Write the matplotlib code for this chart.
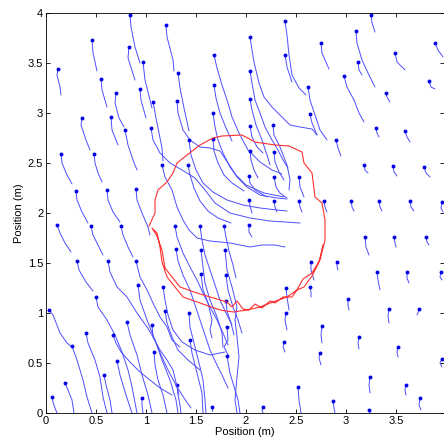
import matplotlib
matplotlib.use('Agg')
import matplotlib.pyplot as plt

# each track: list of (x, y) in metres, first point = current position (dot)
left_tracks = [
    [(0.12, 3.44), (0.11, 3.38), (0.14, 3.26), (0.15, 3.18)],
    [(0.46, 3.73), (0.47, 3.60), (0.51, 3.42)],
    [(0.84, 3.98), (0.85, 3.86), (0.89, 3.66), (0.94, 3.50)],
    [(0.83, 3.66), (0.82, 3.55), (0.89, 3.33)],
    [(0.55, 3.34), (0.56, 3.23), (0.61, 3.06)],
    [(0.70, 3.20), (0.69, 3.10), (0.73, 2.95), (0.78, 2.86)],
    [(0.94, 3.24), (0.95, 3.13), (1.00, 2.95)],
    [(0.97, 3.51), (0.99, 3.33), (1.04, 3.13), (1.06, 3.05)],
    [(0.36, 2.95), (0.35, 2.88), (0.40, 2.73), (0.44, 2.63)],
    [(0.65, 2.96), (0.66, 2.83), (0.72, 2.68)],
    [(0.79, 2.83), (0.82, 2.68), (0.87, 2.53), (0.91, 2.43)],
    [(0.15, 2.59), (0.16, 2.50), (0.21, 2.38), (0.26, 2.29)],
    [(0.48, 2.59), (0.49, 2.50), (0.52, 2.40), (0.56, 2.31)],
    [(0.30, 2.22), (0.31, 2.13), (0.36, 2.01), (0.42, 1.90)],
    [(0.61, 2.23), (0.62, 2.13), (0.67, 2.01), (0.74, 1.91)],
    [(0.90, 2.24), (0.91, 2.13), (0.96, 2.00), (1.02, 1.86), (1.04, 1.78)],
    [(0.11, 1.88), (0.14, 1.80), (0.19, 1.70), (0.25, 1.61)],
    [(0.45, 1.87), (0.47, 1.78), (0.52, 1.68), (0.57, 1.58)],
    [(0.75, 1.87), (0.77, 1.78), (0.82, 1.66), (0.87, 1.56)],
    [(0.31, 1.52), (0.33, 1.43), (0.40, 1.31), (0.47, 1.22)],
    [(0.03, 1.03), (0.07, 0.98), (0.14, 0.80), (0.21, 0.70), (0.26, 0.66)],
    [(0.26, 0.67), (0.31, 0.53), (0.37, 0.33), (0.41, 0.16), (0.46, 0.0)],
    [(0.40, 0.80), (0.42, 0.70), (0.49, 0.53), (0.54, 0.36), (0.57, 0.16), (0.61, 0.0)],
    [(0.50, 1.16), (0.52, 1.06), (0.61, 0.93), (0.69, 0.78), (0.76, 0.61), (0.82, 0.43),
     (0.86, 0.26), (0.91, 0.0)],
    [(0.58, 0.38), (0.60, 0.28), (0.64, 0.13), (0.66, 0.0)],
    [(0.71, 0.52), (0.74, 0.38), (0.80, 0.18), (0.86, 0.0)],
    [(0.19, 0.30), (0.22, 0.23), (0.26, 0.13), (0.28, 0.0)],
    [(0.06, 0.16), (0.07, 0.11), (0.09, 0.05), (0.11, 0.0)],
    [(0.96, 0.15), (0.96, 0.08), (0.97, 0.0)],
    [(0.62, 1.52), (0.64, 1.41), (0.71, 1.26), (0.81, 1.16), (0.91, 1.00), (1.01, 0.86),
     (1.09, 0.73), (1.15, 0.58), (1.22, 0.43), (1.30, 0.28), (1.38, 0.15), (1.45, 0.05)],
    [(0.90, 1.52), (0.94, 1.36), (1.01, 1.23), (1.07, 1.10), (1.14, 0.96), (1.21, 0.86),
     (1.26, 0.73), (1.34, 0.66)],
    [(0.92, 1.28), (0.94, 1.13), (1.01, 0.93), (1.09, 0.73), (1.16, 0.53), (1.24, 0.33),
     (1.30, 0.13), (1.32, 0.0)],
    [(0.81, 0.91), (0.84, 0.78), (0.91, 0.58), (0.96, 0.38), (1.02, 0.18), (1.06, 0.0)],
    [(0.67, 0.78), (0.70, 0.70), (0.75, 0.61), (0.84, 0.51), (0.94, 0.41), (1.04, 0.33),
     (1.14, 0.25), (1.26, 0.18)],
    [(1.08, 0.61), (1.09, 0.48), (1.12, 0.33), (1.17, 0.18), (1.21, 0.0)],
    [(1.31, 0.28), (1.32, 0.18), (1.34, 0.08), (1.35, 0.0)],
    [(1.06, 0.88), (1.07, 0.76), (1.14, 0.63), (1.21, 0.53), (1.27, 0.43), (1.33, 0.18)],
    [(1.19, 1.02), (1.21, 0.90), (1.26, 0.76), (1.32, 0.63), (1.42, 0.53), (1.54, 0.43)],
    [(1.17, 1.26), (1.19, 1.13), (1.22, 0.98), (1.27, 0.83), (1.36, 0.71), (1.49, 0.63),
     (1.64, 0.58), (1.79, 0.61)],
]

middle_tracks = [
    [(1.20, 3.88), (1.21, 3.76), (1.27, 3.53), (1.28, 3.42)],
    [(1.32, 3.40), (1.34, 3.25), (1.38, 3.05), (1.43, 2.82)],
    [(1.07, 3.11), (1.10, 2.95), (1.13, 2.80), (1.16, 2.65), (1.17, 2.52)],
    [(1.31, 3.12), (1.32, 3.00), (1.37, 2.83), (1.44, 2.73), (1.54, 2.66), (1.64, 2.65),
     (1.74, 2.62), (1.82, 2.50), (1.90, 2.38), (2.00, 2.28), (2.18, 2.20), (2.38, 2.16)],
    [(1.68, 3.28), (1.70, 3.15), (1.74, 3.00), (1.80, 2.85), (1.86, 2.72)],
    [(1.67, 2.74), (1.68, 2.62), (1.72, 2.50), (1.78, 2.38), (1.86, 2.30), (1.98, 2.22)],
    [(1.42, 2.48), (1.44, 2.38), (1.48, 2.25), (1.54, 2.12), (1.62, 2.02), (1.72, 1.95),
     (1.85, 1.90)],
    [(1.16, 2.48), (1.19, 2.36), (1.26, 2.23), (1.31, 2.06), (1.37, 1.93), (1.43, 1.83),
     (1.51, 1.75), (1.64, 1.72), (1.84, 1.70), (2.04, 1.66), (2.16, 1.68), (2.29, 1.68),
     (2.39, 1.66)],
    [(1.05, 2.85), (1.07, 2.73), (1.14, 2.60), (1.24, 2.50), (1.36, 2.43), (1.49, 2.35),
     (1.59, 2.23), (1.69, 2.10), (1.84, 2.00), (2.04, 1.95), (2.24, 1.92), (2.54, 1.90)],
    [(1.43, 2.73), (1.45, 2.58), (1.50, 2.43), (1.57, 2.30), (1.67, 2.21), (1.81, 2.13),
     (1.97, 2.08), (2.14, 2.05), (2.31, 2.03), (2.41, 2.02)],
    [(1.67, 3.00), (1.69, 2.86), (1.72, 2.73), (1.77, 2.60), (1.84, 2.46), (1.91, 2.36),
     (2.01, 2.26), (2.14, 2.18), (2.31, 2.15), (2.41, 2.14)],
    [(1.68, 3.58), (1.71, 3.45), (1.76, 3.28), (1.82, 3.10), (1.86, 2.96), (1.93, 2.80),
     (2.02, 2.63), (2.14, 2.51), (2.26, 2.43), (2.36, 2.39)],
    [(2.04, 3.76), (2.06, 3.63), (2.08, 3.51), (2.13, 3.30), (2.18, 3.16), (2.26, 3.06),
     (2.34, 2.98), (2.44, 2.88), (2.54, 2.86), (2.66, 2.84), (2.71, 2.78)],
    [(2.04, 3.42), (2.06, 3.30), (2.09, 3.13), (2.14, 3.00), (2.19, 2.86), (2.26, 2.73),
     (2.32, 2.63), (2.37, 2.53), (2.42, 2.45)],
    [(2.04, 3.14), (2.06, 3.03), (2.10, 2.88), (2.16, 2.73), (2.21, 2.58), (2.24, 2.48)],
    [(2.04, 2.87), (2.06, 2.76), (2.11, 2.66), (2.17, 2.60)],
    [(2.27, 2.88), (2.28, 2.78), (2.34, 2.66), (2.41, 2.48), (2.44, 2.33), (2.43, 2.23)],
    [(2.04, 2.62), (2.05, 2.53), (2.08, 2.43), (2.12, 2.35)],
    [(2.28, 2.61), (2.29, 2.51), (2.33, 2.41), (2.38, 2.33)],
    [(2.03, 2.37), (2.04, 2.30), (2.09, 2.23), (2.21, 2.16)],
    [(2.28, 2.36), (2.30, 2.26), (2.34, 2.20), (2.41, 2.15)],
    [(2.03, 2.13), (2.04, 2.07), (2.06, 2.00)],
    [(1.29, 1.87), (1.31, 1.76), (1.37, 1.60), (1.44, 1.46), (1.51, 1.33), (1.57, 1.20),
     (1.64, 1.06), (1.71, 0.93), (1.77, 0.80), (1.82, 0.68)],
    [(1.30, 1.64), (1.32, 1.52), (1.37, 1.38), (1.44, 1.23), (1.49, 1.08), (1.54, 0.93),
     (1.59, 0.78), (1.64, 0.63), (1.70, 0.50), (1.76, 0.38), (1.82, 0.25)],
    [(1.54, 1.87), (1.56, 1.73), (1.59, 1.58), (1.64, 1.43), (1.69, 1.28), (1.74, 1.13),
     (1.80, 1.00), (1.86, 0.88)],
    [(1.55, 1.63), (1.57, 1.46), (1.59, 1.30), (1.64, 1.13), (1.71, 0.96), (1.76, 0.80),
     (1.77, 0.66)],
    [(1.78, 1.87), (1.80, 1.76), (1.83, 1.62), (1.87, 1.48), (1.90, 1.35)],
    [(1.79, 1.63), (1.81, 1.43), (1.86, 1.26), (1.91, 1.06), (1.89, 0.93), (1.91, 0.76),
     (1.93, 0.56), (1.91, 0.36), (1.89, 0.13), (1.91, 0.0)],
    [(1.55, 1.39), (1.57, 1.23), (1.62, 1.10), (1.66, 0.93), (1.64, 0.83), (1.66, 0.75)],
    [(1.80, 1.38), (1.82, 1.23), (1.87, 1.06), (1.92, 0.93), (1.96, 0.80)],
    [(1.80, 1.12), (1.81, 1.02), (1.85, 0.90), (1.88, 0.78)],
    [(1.81, 0.86), (1.82, 0.73), (1.78, 0.66), (1.82, 0.58)],
    [(1.81, 0.57), (1.84, 0.40), (1.89, 0.23), (1.92, 0.13), (1.94, 0.0)],
    [(1.43, 1.00), (1.44, 0.86), (1.49, 0.66), (1.54, 0.46), (1.57, 0.33), (1.59, 0.13),
     (1.60, 0.0)],
    [(1.44, 0.73), (1.46, 0.60), (1.51, 0.40), (1.56, 0.20), (1.57, 0.0)],
    [(1.66, 0.06), (1.66, 0.02)],
]

right_tracks = [
    [(2.39, 3.92), (2.41, 3.78), (2.43, 3.58), (2.46, 3.38), (2.53, 3.25), (2.60, 3.18)],
    [(2.62, 3.26), (2.64, 3.13), (2.69, 2.98), (2.74, 2.83), (2.81, 2.73)],
    [(2.39, 3.58), (2.41, 3.46), (2.46, 3.31)],
    [(2.75, 3.70), (2.76, 3.60), (2.83, 3.44)],
    [(3.10, 3.82), (3.11, 3.70), (3.16, 3.53), (3.22, 3.40), (3.29, 3.26)],
    [(3.25, 3.98), (3.26, 3.90), (3.29, 3.81)],
    [(3.49, 3.60), (3.51, 3.51), (3.59, 3.43)],
    [(3.89, 3.70), (3.92, 3.63), (3.97, 3.56)],
    [(3.12, 3.51), (3.13, 3.43), (3.16, 3.38)],
    [(2.98, 3.37), (3.01, 3.26), (3.08, 3.13), (3.13, 3.00), (3.18, 2.91)],
    [(3.40, 3.20), (3.41, 3.16), (3.44, 3.11)],
    [(3.83, 3.32), (3.85, 3.26), (3.89, 3.24)],
    [(2.64, 2.99), (2.66, 2.90), (2.71, 2.78)],
    [(2.90, 2.73), (2.92, 2.65), (2.95, 2.57)],
    [(3.30, 2.85), (3.31, 2.80), (3.33, 2.76)],
    [(3.59, 2.82), (3.61, 2.76), (3.64, 2.71)],
    [(3.18, 2.48), (3.19, 2.43), (3.22, 2.40)],
    [(3.47, 2.47), (3.48, 2.41), (3.51, 2.37)],
    [(3.78, 2.46), (3.80, 2.40), (3.84, 2.36)],
    [(2.53, 2.36), (2.54, 2.26), (2.58, 2.16)],
    [(2.28, 2.12), (2.29, 2.06), (2.31, 2.01)],
    [(2.53, 2.12), (2.54, 2.06), (2.56, 2.01)],
    [(2.78, 2.12), (2.79, 2.06), (2.81, 2.01)],
    [(3.05, 2.12), (3.06, 2.06), (3.08, 2.02)],
    [(3.33, 2.12), (3.34, 2.06), (3.36, 2.02)],
    [(3.64, 2.12), (3.65, 2.06), (3.68, 2.02)],
    [(3.96, 2.11), (3.95, 2.05), (3.97, 2.01)],
    [(2.03, 1.88), (2.03, 1.81), (2.06, 1.76)],
    [(3.19, 1.76), (3.20, 1.66), (3.23, 1.58)],
    [(3.48, 1.76), (3.49, 1.70), (3.50, 1.66)],
    [(3.80, 1.76), (3.81, 1.71), (3.83, 1.68)],
    [(2.65, 1.51), (2.65, 1.43), (2.68, 1.33)],
    [(2.91, 1.51), (2.91, 1.47), (2.92, 1.43)],
    [(3.31, 1.41), (3.32, 1.33), (3.34, 1.23)],
    [(3.61, 1.41), (3.61, 1.35), (3.63, 1.30)],
    [(3.95, 1.41), (3.94, 1.36), (3.96, 1.33)],
    [(2.40, 1.25), (2.41, 1.16), (2.43, 1.03)],
    [(2.64, 1.26), (2.65, 1.21), (2.65, 1.16)],
    [(3.02, 1.14), (3.02, 1.08), (3.03, 1.03)],
    [(3.43, 1.04), (3.42, 0.97), (3.43, 0.90)],
    [(3.73, 1.04), (3.72, 1.00), (3.71, 0.98)],
    [(2.40, 1.00), (2.39, 0.93), (2.41, 0.83)],
    [(2.76, 0.87), (2.75, 0.78), (2.76, 0.70)],
    [(3.13, 0.76), (3.12, 0.70), (3.13, 0.64)],
    [(2.38, 0.71), (2.37, 0.66), (2.39, 0.61)],
    [(2.74, 0.60), (2.73, 0.55), (2.75, 0.48)],
    [(3.52, 0.66), (3.51, 0.61), (3.52, 0.56)],
    [(3.96, 0.54), (3.94, 0.50), (3.96, 0.46)],
    [(3.24, 0.36), (3.23, 0.28), (3.24, 0.20)],
    [(3.60, 0.28), (3.59, 0.23), (3.60, 0.18)],
    [(2.52, 0.26), (2.53, 0.13), (2.55, 0.0)],
    [(3.74, 0.15), (3.73, 0.08), (3.75, 0.03)],
    [(2.87, 0.12), (2.88, 0.05), (2.89, 0.0)],
    [(2.17, 0.06), (2.16, 0.03), (2.17, 0.0)],
    [(3.23, 0.03), (3.24, 0.0)],
]

# red boundary estimate
boundary_x = [1.03, 1.09, 1.09, 1.12, 1.21, 1.27, 1.31, 1.41, 1.54, 1.67, 1.76, 1.96, 2.09,
              2.29, 2.43, 2.56, 2.58, 2.66, 2.69, 2.76, 2.79, 2.79, 2.74, 2.66, 2.57, 2.51,
              2.41, 2.27, 2.14, 2.01, 1.87, 1.74, 1.54, 1.37, 1.21, 1.16, 1.14, 1.11, 1.06,
              1.11, 1.16, 1.19, 1.34, 1.51, 1.64, 1.81, 1.86, 1.91, 1.97, 2.03, 2.09, 2.16,
              2.24, 2.29, 2.37, 2.46, 2.51, 2.58, 2.66, 2.73, 2.77]
boundary_y = [1.87, 2.00, 2.13, 2.23, 2.31, 2.40, 2.50, 2.58, 2.68, 2.75, 2.77, 2.78, 2.71,
              2.68, 2.67, 2.61, 2.50, 2.40, 2.16, 2.10, 1.93, 1.73, 1.53, 1.40, 1.34, 1.23,
              1.16, 1.11, 1.06, 1.03, 1.01, 1.03, 1.10, 1.16, 1.36, 1.51, 1.66, 1.80, 1.85,
              1.77, 1.63, 1.45, 1.26, 1.20, 1.16, 1.11, 1.06, 1.12, 1.04, 1.03, 1.09, 1.05,
              1.12, 1.10, 1.16, 1.16, 1.23, 1.26, 1.37, 1.51, 1.68]

x_ticks = [0, 0.5, 1, 1.5, 2, 2.5, 3, 3.5]
y_ticks = [0, 0.5, 1, 1.5, 2, 2.5, 3, 3.5, 4]

plt.rcParams['font.family'] = ['Liberation Sans', 'DejaVu Sans']

fig = plt.figure(figsize=(4.44, 4.41), dpi=100)
ax = fig.add_axes([46 / 444, 28 / 441, 398 / 444, 400 / 441])

for track in left_tracks + middle_tracks + right_tracks:
    xs = [p[0] for p in track]
    ys = [p[1] for p in track]
    ax.plot(xs, ys, color='#4d4dff', lw=0.7, solid_capstyle='round')
    ax.plot(xs[0], ys[0], 'o', color='#0000e6', markersize=2.8, markeredgewidth=0)

ax.plot(boundary_x, boundary_y, color='#ff3030', lw=0.8)

ax.set_xlim(0, 3.98)
ax.set_ylim(0, 4)
ax.set_xticks(x_ticks)
ax.set_xticklabels(['0', '0.5', '1', '1.5', '2', '2.5', '3', '3.5'])
ax.set_yticks(y_ticks)
ax.set_yticklabels(['0', '0.5', '1', '1.5', '2', '2.5', '3', '3.5', '4'])
ax.tick_params(direction='in', top=True, right=True, labelsize=8, length=3, width=0.6, pad=2)
for s in ax.spines.values():
    s.set_linewidth(0.6)
ax.set_xlabel('Position (m)', fontsize=8, labelpad=1)
ax.set_ylabel('Position (m)', fontsize=8, labelpad=3)

fig.savefig('out.png', dpi=100)
